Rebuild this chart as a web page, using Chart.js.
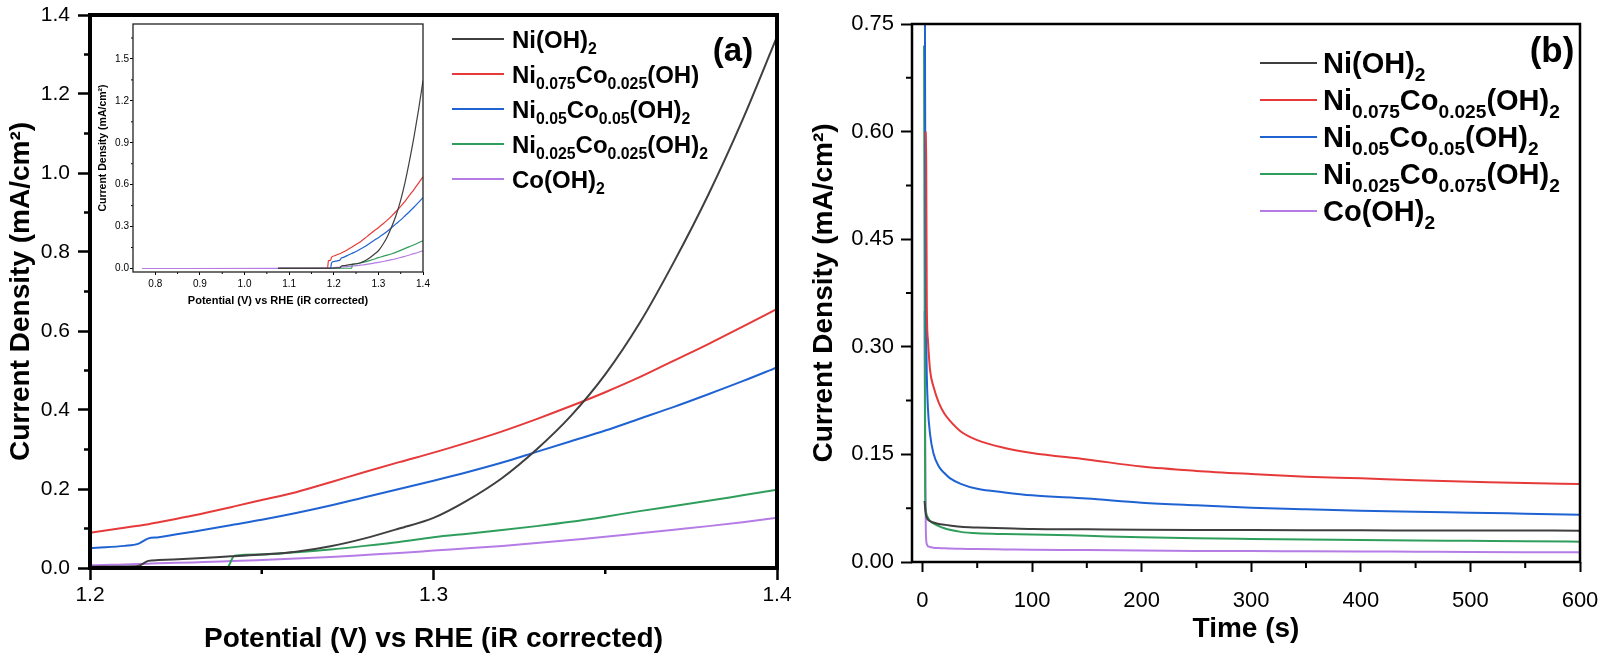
<!DOCTYPE html>
<html>
<head>
<meta charset="utf-8">
<script src="https://cdn.jsdelivr.net/npm/chart.js@4.4.1/dist/chart.umd.min.js"></script>
<style>
  body { margin: 0; background: #fff; width: 1600px; height: 656px; overflow: hidden; position: relative; }
  canvas { position: absolute; }
</style>
</head>
<body>
<canvas id="chartA" width="800" height="656" style="left:0;top:0"></canvas>
<canvas id="inset" width="335" height="295" style="left:95px;top:18px"></canvas>
<canvas id="chartB" width="800" height="656" style="left:800px;top:0"></canvas>
<script>
// ---- panel (a): LSV, potential (V) vs RHE ----
const potA = [0.77, 1.075, 1.186, 1.188, 1.193, 1.195, 1.20, 1.21, 1.214, 1.217, 1.22, 1.23, 1.24, 1.242,
  1.25, 1.26, 1.27, 1.28, 1.29, 1.30, 1.31, 1.32, 1.33, 1.34, 1.35, 1.36, 1.37, 1.38, 1.39, 1.40]
const niA = [null, 0.001, 0.001, 0.001, 0.002, 0.002, 0.003, 0.004, 0.005, 0.018, 0.020, 0.024, 0.029, 0.030,
  0.034, 0.041, 0.055, 0.075, 0.100, 0.127, 0.172, 0.228, 0.300, 0.385, 0.490, 0.620, 0.775, 0.945, 1.135, 1.345]
const ni75A = [null, 0.001, 0.002, 0.055, 0.060, 0.080, 0.089, 0.102, 0.107, 0.111, 0.116, 0.133, 0.152, 0.156,
  0.172, 0.192, 0.217, 0.243, 0.268, 0.292, 0.318, 0.346, 0.377, 0.410, 0.445, 0.483, 0.525, 0.567, 0.611, 0.656]
const ni50A = [null, 0.001, 0.002, 0.002, 0.004, 0.040, 0.050, 0.056, 0.061, 0.075, 0.078, 0.092, 0.107, 0.110,
  0.122, 0.139, 0.158, 0.179, 0.200, 0.221, 0.243, 0.267, 0.294, 0.321, 0.348, 0.378, 0.408, 0.440, 0.473, 0.508]
const ni25A = [null, 0.001, 0.001, 0.001, 0.001, 0.001, 0.002, 0.002, 0.002, 0.002, 0.002, 0.002, 0.002, 0.031,
  0.034, 0.040, 0.047, 0.056, 0.066, 0.078, 0.087, 0.096, 0.106, 0.117, 0.130, 0.144, 0.157, 0.170, 0.184, 0.198]
const coA = [0.000, 0.001, 0.003, 0.003, 0.004, 0.005, 0.007, 0.009, 0.010, 0.011, 0.012, 0.014, 0.017, 0.018,
  0.020, 0.024, 0.028, 0.033, 0.038, 0.044, 0.050, 0.056, 0.063, 0.071, 0.079, 0.088, 0.097, 0.106, 0.116, 0.127]
const labelsA = ['Ni(OH)_{2}', 'Ni_{0.075}Co_{0.025}(OH)', 'Ni_{0.05}Co_{0.05}(OH)_{2}',
  'Ni_{0.025}Co_{0.025}(OH)_{2}', 'Co(OH)_{2}']
const ticksAX = [1.2, 1.3, 1.4]
const minorAX = [1.25, 1.35]
const ticksAY = [0, 0.2, 0.4, 0.6, 0.8, 1.0, 1.2, 1.4]
const minorAY = [0.1, 0.3, 0.5, 0.7, 0.9, 1.1, 1.3]
const ticksInX = [0.8, 0.9, 1.0, 1.1, 1.2, 1.3, 1.4]
const minorInX = [0.85, 0.95, 1.05, 1.15, 1.25, 1.35]
const ticksInY = [0, 0.3, 0.6, 0.9, 1.2, 1.5]
const minorInY = [0.15, 0.45, 0.75, 1.05, 1.35, 1.65]

// ---- panel (b): chronoamperometry, time (s) ----
const timeB = [1.5, 2, 2.5, 3, 3.5, 4, 5, 7, 10, 15, 20, 25, 35, 50, 75, 100, 150, 200, 250, 300, 350, 400, 450, 500, 550, 600]
const niB = [null, 0.085, 0.075, 0.068, 0.064, 0.062, 0.059, 0.057, 0.055, 0.053, 0.052, 0.051, 0.049,
  0.048, 0.047, 0.046, 0.0455, 0.045, 0.0447, 0.0445, 0.0443, 0.0442, 0.044, 0.0439, 0.0438, 0.0437]
const ni75B = [null, null, null, 0.60, 0.55, 0.36, 0.31, 0.267, 0.245, 0.222, 0.207, 0.197, 0.182,
  0.170, 0.159, 0.152, 0.143, 0.133, 0.127, 0.1227, 0.119, 0.1167, 0.114, 0.112, 0.110, 0.1088]
const ni50B = [null, 1.0, 0.62, 0.42, 0.31, 0.26, 0.215, 0.178, 0.152, 0.133, 0.124, 0.117, 0.109,
  0.102, 0.097, 0.093, 0.0885, 0.0827, 0.079, 0.0758, 0.0735, 0.0716, 0.070, 0.0688, 0.0674, 0.066]
const ni25B = [0.72, 0.40, 0.10, 0.072, 0.068, 0.065, 0.062, 0.057, 0.054, 0.050, 0.047, 0.045, 0.042,
  0.040, 0.039, 0.0385, 0.0365, 0.0344, 0.033, 0.0321, 0.0313, 0.0307, 0.030, 0.0295, 0.029, 0.0284]
const coB = [null, 0.35, 0.20, 0.06, 0.03, 0.025, 0.022, 0.021, 0.020, 0.0195, 0.019, 0.0188, 0.0185,
  0.018, 0.0175, 0.017, 0.0167, 0.016, 0.0155, 0.0152, 0.015, 0.0147, 0.0143, 0.014, 0.0137, 0.0135]
const labelsB = ['Ni(OH)_{2}', 'Ni_{0.075}Co_{0.025}(OH)_{2}', 'Ni_{0.05}Co_{0.05}(OH)_{2}',
  'Ni_{0.025}Co_{0.075}(OH)_{2}', 'Co(OH)_{2}']
const ticksBX = [0, 100, 200, 300, 400, 500, 600]
const minorBX = [50, 150, 250, 350, 450, 550]
const ticksBY = [0, 0.15, 0.30, 0.45, 0.60, 0.75]
const minorBY = [0.075, 0.225, 0.375, 0.525, 0.675]

const FONT = '"Liberation Sans", Arial, sans-serif'
const colors = ['#3f3f3f', '#e63a3a', '#1f63d3', '#2f9e5c', '#b57ce6']
Chart.defaults.font.family = FONT
Chart.defaults.color = '#000'

function datasets(xs, series, labels, width) {
  return series.map((ys, i) => ({
    label: labels[i],
    data: xs.map((x, j) => ({ x, y: ys[j] })),
    borderColor: colors[i],
    borderWidth: width,
    pointRadius: 0,
    fill: false,
    cubicInterpolationMode: 'monotone'
  }))
}

// text with _{...} parts as subscripts
function richText(ctx, text, x, y, size) {
  const parts = text.split(/(_\{[^}]*\})/).filter(Boolean)
  for (const p of parts) {
    const sub = p.startsWith('_{')
    const t = sub ? p.slice(2, -1) : p
    ctx.font = `bold ${sub ? size * 0.66 : size}px ${FONT}`
    ctx.fillText(t, x, sub ? y + size * 0.25 : y)
    x += ctx.measureText(t).width
  }
}

const decor = {
  id: 'decor',
  afterDraw(chart, args, o) {
    const { ctx, chartArea: a, scales } = chart
    ctx.save()
    ctx.strokeStyle = '#000'
    ctx.lineWidth = o.tickWidth
    ctx.beginPath()
    for (const v of o.minorX) {
      const p = scales.x.getPixelForValue(v)
      ctx.moveTo(p, a.bottom); ctx.lineTo(p, a.bottom + o.minorLen)
    }
    for (const v of o.minorY) {
      const p = scales.y.getPixelForValue(v)
      ctx.moveTo(a.left, p); ctx.lineTo(a.left - o.minorLen, p)
    }
    ctx.stroke()

    ctx.lineWidth = o.frame
    ctx.strokeStyle = o.frameColor
    ctx.strokeRect(a.left, a.top, a.width, a.height)

    if (o.legend) {
      const L = o.legend
      ctx.textBaseline = 'alphabetic'
      ctx.textAlign = 'left'
      chart.data.datasets.forEach((ds, i) => {
        const y = L.y + i * L.dy
        ctx.strokeStyle = ds.borderColor
        ctx.lineWidth = 2
        ctx.beginPath(); ctx.moveTo(L.x, y); ctx.lineTo(L.x + L.len, y); ctx.stroke()
        ctx.fillStyle = '#000'
        richText(ctx, ds.label, L.x + L.len + L.gap, y + L.size * 0.36, L.size)
      })
    }
    if (o.tag) {
      ctx.fillStyle = '#000'
      ctx.font = `bold ${o.tag.size}px ${FONT}`
      ctx.textAlign = 'center'
      ctx.textBaseline = 'middle'
      ctx.fillText(o.tag.text, o.tag.x, o.tag.y)
    }
    ctx.restore()
  }
}

function axis(min, max, ticks, digits, o) {
  return {
    type: 'linear', min, max,
    afterBuildTicks: s => { s.ticks = ticks.map(v => ({ value: v })) },
    afterFit: s => {
      if (s.isHorizontal()) s.height = o.fit; else s.width = o.fit
      // the layout padding alone sets the plot edges
      s.paddingLeft = s.paddingRight = s.paddingTop = s.paddingBottom = 0
    },
    ticks: { callback: v => v.toFixed(digits), font: { size: o.size }, color: '#000', padding: o.pad,
      maxRotation: 0, autoSkip: false },
    grid: { drawOnChartArea: false, tickLength: o.tick, tickWidth: o.tickWidth, tickColor: '#000' },
    border: { display: false },
    title: { display: true, text: o.title, color: '#000', font: { size: o.titleSize, weight: 'bold' },
      padding: o.titlePad }
  }
}

new Chart(document.getElementById('chartA'), {
  type: 'line',
  data: { datasets: datasets(potA, [niA, ni75A, ni50A, ni25A, coA], labelsA, 2) },
  options: {
    responsive: false, animation: false, events: [],
    layout: { padding: { left: 0, top: 15, right: 23, bottom: 0 } },
    scales: {
      x: axis(1.2, 1.4, ticksAX, 1, { fit: 88, size: 21, pad: 3, tick: 12, tickWidth: 2.5,
        title: 'Potential (V) vs RHE (iR corrected)', titleSize: 28, titlePad: { top: 0, bottom: 0 } }),
      y: axis(0, 1.4, ticksAY, 1, { fit: 90, size: 21, pad: 8, tick: 12, tickWidth: 2.5,
        title: 'Current Density (mA/cm²)', titleSize: 28, titlePad: { top: 4, bottom: 0 } })
    },
    plugins: {
      legend: { display: false }, tooltip: { enabled: false },
      decor: { minorX: minorAX, minorY: minorAY, minorLen: 6, tickWidth: 2.5, frame: 4, frameColor: '#000',
        legend: { x: 452, y: 39, dy: 35, len: 52, gap: 8, size: 24 },
        tag: { text: '(a)', x: 733, y: 52, size: 33 } }
    }
  },
  plugins: [decor]
})

new Chart(document.getElementById('inset'), {
  type: 'line',
  data: { datasets: datasets(potA, [niA, ni75A, ni50A, ni25A, coA], labelsA, 1.2) },
  options: {
    responsive: false, animation: false, events: [],
    layout: { padding: { left: 0, top: 6, right: 7, bottom: 0 } },
    scales: {
      x: axis(0.75, 1.4, ticksInX, 1, { fit: 41, size: 10, pad: 3, tick: 3, tickWidth: 1,
        title: 'Potential (V) vs RHE (iR corrected)', titleSize: 11, titlePad: { top: 0, bottom: 5 } }),
      y: axis(-0.025, 1.75, ticksInY, 1, { fit: 38, size: 10, pad: 1, tick: 3, tickWidth: 1,
        title: 'Current Density (mA/cm²)', titleSize: 10.5, titlePad: { top: 2, bottom: 0 } })
    },
    plugins: {
      legend: { display: false }, tooltip: { enabled: false },
      decor: { minorX: minorInX, minorY: minorInY, minorLen: 2, tickWidth: 1, frame: 1.3, frameColor: '#222' }
    }
  },
  plugins: [decor]
})

new Chart(document.getElementById('chartB'), {
  type: 'line',
  data: { datasets: datasets(timeB, [niB, ni75B, ni50B, ni25B, coB], labelsB, 2) },
  options: {
    responsive: false, animation: false, events: [],
    layout: { padding: { left: 0, top: 24, right: 20, bottom: 0 } },
    scales: {
      x: axis(-9.5, 600, ticksBX, 0, { fit: 94, size: 22, pad: 16, tick: 10, tickWidth: 2,
        title: 'Time (s)', titleSize: 28, titlePad: { top: 0, bottom: 10 } }),
      y: axis(0, 0.75, ticksBY, 2, { fit: 112, size: 22, pad: 7, tick: 11, tickWidth: 2,
        title: 'Current Density (mA/cm²)', titleSize: 28, titlePad: { top: 7, bottom: 0 } })
    },
    plugins: {
      legend: { display: false }, tooltip: { enabled: false },
      decor: { minorX: minorBX, minorY: minorBY, minorLen: 6, tickWidth: 2, frame: 2.5, frameColor: '#000',
        legend: { x: 460, y: 63, dy: 37, len: 57, gap: 6, size: 29 },
        tag: { text: '(b)', x: 752, y: 52, size: 35 } }
    }
  },
  plugins: [decor]
})
</script>
</body>
</html>
